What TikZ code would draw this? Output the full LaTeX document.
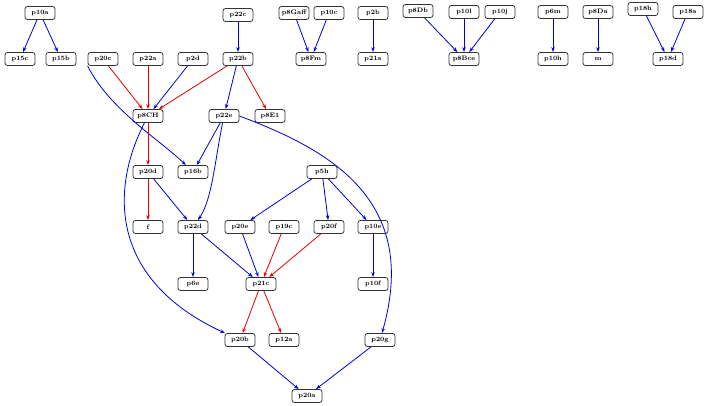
\documentclass[tikz,border=0pt]{standalone}
\usetikzlibrary{arrows.meta}
\tikzset{
  box/.style={draw=black!80,thick,rounded corners=2.5pt,fill=white,minimum width=30pt,minimum height=13pt,inner sep=1pt,font=\fontsize{6.5}{7}\selectfont\bfseries},
  bl/.style={draw=blue!85!black,thick,-{Stealth[length=5pt,width=3.5pt]}},
  rd/.style={draw=red!90!black,thick,-{Stealth[length=5pt,width=3.5pt]}}
}
\begin{document}
\begin{tikzpicture}[x=1pt,y=-1pt]
  \useasboundingbox (0,0) rectangle (713,406);
  % top rows
  \node[box] (p10a) at (40,13) {p10a};
  \node[box] (p15c) at (20,59) {p15c};
  \node[box] (p15b) at (61,59) {p15b};
  \node[box] (p20c) at (103,59) {p20c};
  \node[box] (p22a) at (148,59) {p22a};
  \node[box] (p2d) at (193,59) {p2d};
  \node[box] (p22b) at (238,59) {p22b};
  \node[box] (p22c) at (238,15) {p22c};
  \node[box] (p8Gaff) at (294,13) {p8Gaff};
  \node[box] (p10c) at (329,13) {p10c};
  \node[box] (p8Fm) at (311,59) {p8Fm};
  \node[box] (p2b) at (373,13) {p2b};
  \node[box] (p21a) at (373,59) {p21a};
  \node[box] (p8Db) at (418,11) {p8Db};
  \node[box] (p10l) at (464,12) {p10l};
  \node[box] (p10j) at (500,12) {p10j};
  \node[box] (p8Bce) at (464,59) {p8Bce};
  \node[box] (p6m) at (553,12) {p6m};
  \node[box] (p10h) at (553,59) {p10h};
  \node[box] (p8Da) at (598,12) {p8Da};
  \node[box] (m) at (598,59) {m};
  \node[box] (p18h) at (643,9) {p18h};
  \node[box] (p18a) at (688,12) {p18a};
  \node[box] (p18d) at (668,59) {p18d};
  % middle
  \node[box] (p8CH) at (148,116) {p8CH};
  \node[box] (p22e) at (224,116) {p22e};
  \node[box] (p8E1) at (270,116) {p8E1};
  \node[box] (p20d) at (148,172) {p20d};
  \node[box] (p16b) at (193,172) {p16b};
  \node[box] (p5h) at (322,172) {p5h};
  \node[box] (f) at (148,227) {f};
  \node[box] (p22d) at (193,227) {p22d};
  \node[box] (p20e) at (240,227) {p20e};
  \node[box] (p19c) at (284,227) {p19c};
  \node[box] (p20f) at (329,227) {p20f};
  \node[box] (p10e) at (373,227) {p10e};
  \node[box] (p6e) at (193,284) {p6e};
  \node[box] (p21c) at (261,284) {p21c};
  \node[box] (p10f) at (373,284) {p10f};
  \node[box] (p20b) at (240,340) {p20b};
  \node[box] (p12a) at (284,340) {p12a};
  \node[box] (p20g) at (380,340) {p20g};
  \node[box] (p20a) at (307,396) {p20a};

  \draw[bl] (p10a) -- (p15c);
  \draw[bl] (p10a) -- (p15b);
  \draw[bl] (p22c) -- (p22b);
  \draw[bl] (p8Gaff) -- (p8Fm);
  \draw[bl] (p10c) -- (p8Fm);
  \draw[bl] (p2b) -- (p21a);
  \draw[bl] (p8Db) -- (p8Bce);
  \draw[bl] (p10l) -- (p8Bce);
  \draw[bl] (p10j) -- (p8Bce);
  \draw[bl] (p6m) -- (p10h);
  \draw[bl] (p8Da) -- (m);
  \draw[bl] (p18h) -- (p18d);
  \draw[bl] (p18a) -- (p18d);

  \draw[rd] (p20c) -- (p8CH);
  \draw[rd] (p22a) -- (p8CH);
  \draw[bl] (p2d) -- (p8CH);
  \draw[rd] (p22b) -- (p8CH);
  \draw[bl] (p22b) -- (p22e);
  \draw[rd] (p22b) -- (p8E1);
  \draw[bl] (p20c.south west) .. controls (110,110) and (160,140) .. (p16b);
  \draw[rd] (p8CH) -- (p20d);
  \draw[bl] (p8CH) .. controls (110,190) and (110,280) .. (p20b);
  \draw[bl] (p22e) -- (p16b);
  \draw[bl] (p22e) .. controls (215,160) and (212,200) .. (p22d);
  \draw[bl] (p22e.east) .. controls (330,150) and (420,200) .. (p20g);
  \draw[rd] (p20d) -- (f);
  \draw[bl] (p20d) -- (p22d);
  \draw[bl] (p5h) -- (p20e);
  \draw[bl] (p5h) -- (p20f);
  \draw[bl] (p5h) -- (p10e);
  \draw[bl] (p22d) -- (p6e);
  \draw[bl] (p22d) -- (p21c);
  \draw[bl] (p20e) -- (p21c);
  \draw[rd] (p19c) -- (p21c);
  \draw[rd] (p20f) -- (p21c);
  \draw[bl] (p10e) -- (p10f);
  \draw[rd] (p21c) -- (p20b);
  \draw[rd] (p21c) -- (p12a);
  \draw[bl] (p20b) -- (p20a);
  \draw[bl] (p20g) -- (p20a);
\end{tikzpicture}
\end{document}
